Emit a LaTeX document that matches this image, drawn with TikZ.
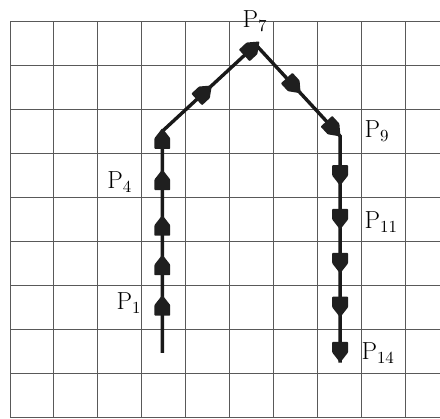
\documentclass[tikz,border=0pt]{standalone}
\usetikzlibrary{calc}
\begin{document}
\begin{tikzpicture}[x=1cm,y=1cm,
  gridline/.style={black!65, line width=0.65pt},
  route/.style={black!90, line width=2.2pt},
  lbl/.style={inner sep=0pt, anchor=base west, font=\fontsize{16}{19}\selectfont},
  amark/.pic={\fill[black!88, rounded corners=0.5pt] (-0.24,-0.18) -- (0,-0.18) -- (0.23,0) -- (0,0.18) -- (-0.24,0.18) -- cycle;}
]
\useasboundingbox (-0.228,-0.023) rectangle (9.795,9.50);
\fill[white] (-0.228,-0.023) rectangle (9.795,9.50);
\foreach \y in {0,...,9} \draw[gridline] (0,\y) -- (9.795,\y);
\foreach \x in {0,...,9} \draw[gridline] (\x,0) -- (\x,9);
% route
\coordinate (S) at (3.47,1.46);
\coordinate (A) at (3.47,6.51);
\coordinate (T) at (5.6,8.48);
\coordinate (R) at (7.52,6.4);
\coordinate (E) at (7.52,1.24);
\draw[route] (S) -- (A) -- (T) -- (R) -- (E);
% marks
\foreach \y in {2.55,3.47,4.37,5.41,6.35} \pic[rotate=90] at (3.47,\y) {amark};
\pic[rotate=42.8] at ($(A)!0.45!(T)$) {amark};
\pic[rotate=42.8] at ($(T)!0.12cm!(A)$) {amark};
\pic[rotate=-47.3] at ($(T)!0.45!(R)$) {amark};
\pic[rotate=-47.3] at ($(R)!0.22cm!(T)$) {amark};
\foreach \y in {5.5,4.5,3.5,2.5,1.47} \pic[rotate=-90] at (7.52,\y) {amark};
% labels
\node[lbl] (p1) at (2.42,2.44) {P$_{1}$};
\node[lbl] (p4) at (2.21,5.21) {P$_{4}$};
\node[lbl] (p7) at (5.29,8.88) {P$_{7}$};
\node[lbl] (p9) at (8.07,6.37) {P$_{9}$};
\node[lbl] (p11) at (8.07,4.29) {P$_{11}$};
\node[lbl] (p14) at (8.0,1.30) {P$_{14}$};
\end{tikzpicture}
\end{document}
